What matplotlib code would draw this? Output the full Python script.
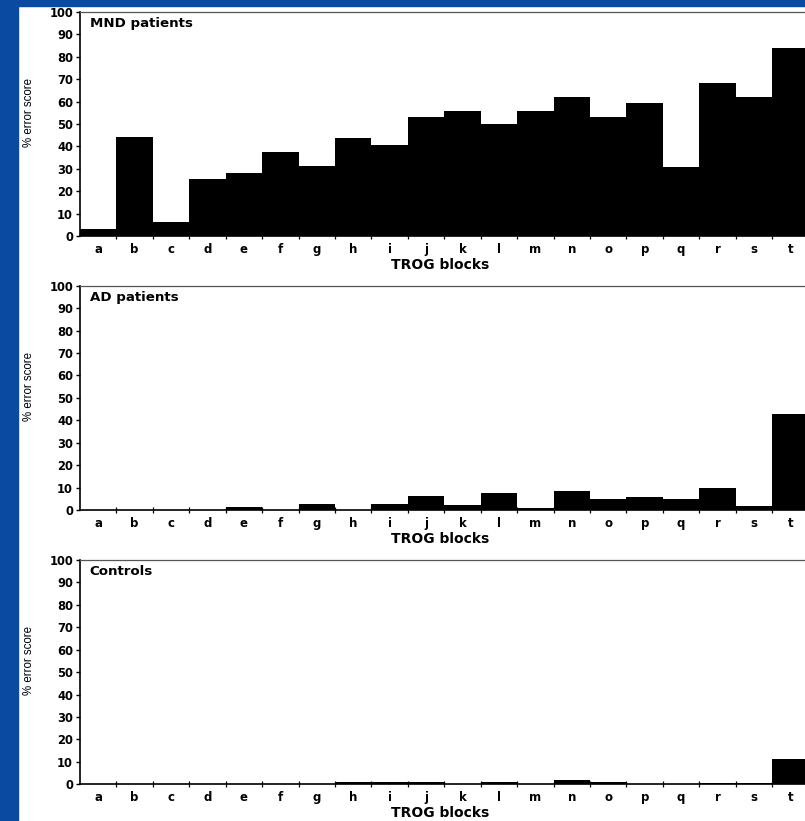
import matplotlib
matplotlib.use("Agg")
import matplotlib.pyplot as plt
from matplotlib.patches import Rectangle
import numpy as np

# TROG blocks a..t
blocks = list("abcdefghijklmnopqrst")

# % error score per block
mnd = [3.3, 44, 6.4, 25.3, 28.3, 37.6, 31.2, 43.7, 40.6, 53, 56, 50,
       56, 62.2, 53, 59.2, 31, 68.5, 62, 84]
ad = [0, 0, 0, 0, 1.2, 0, 2.5, 0, 2.5, 6.2, 2.2, 7.4,
      0.8, 8.6, 4.8, 5.9, 4.8, 9.9, 1.9, 42.7]
controls = [0, 0, 0, 0, 0, 0, 0, 1.0, 1.0, 1.0, 0, 1.0,
            0, 1.9, 0.9, 0, 0, 0.7, 0.7, 11.5]

groups = ["MND patients", "AD patients", "Controls"]
series = [mnd, ad, controls]
yticks = list(range(0, 101, 10))

BLUE = "#0a4aa0"
W, H = 805, 821

fig = plt.figure(figsize=(W / 100, H / 100), dpi=100, facecolor="white")

# slide frame
fig.add_artist(Rectangle((0, 0), 18 / W, 1, transform=fig.transFigure,
                         color=BLUE, zorder=10))
fig.add_artist(Rectangle((0, 1 - 6 / H), 1, 6 / H, transform=fig.transFigure,
                         color=BLUE, zorder=10))

# (top px, zero-line px) for each panel
panel_px = [(12, 236), (285.7, 510), (560, 784.3)]
left_px = 80

x = np.arange(len(blocks))
for (top, bottom), name, vals in zip(panel_px, groups, series):
    ax = fig.add_axes([left_px / W, 1 - bottom / H, (W - left_px) / W, (bottom - top) / H])
    ax.bar(x, vals, width=1.0, color="black", edgecolor="none")
    ax.set_xlim(-0.5, 19.4)
    ax.set_ylim(0, 100)

    ax.spines["right"].set_visible(False)
    ax.spines["top"].set_color("#555555")
    ax.spines["top"].set_linewidth(0.9)
    ax.spines["left"].set_linewidth(1.2)
    ax.spines["bottom"].set_linewidth(1.2)

    ax.set_yticks(yticks)
    ax.set_yticklabels([str(v) for v in yticks], fontsize=8.3,
                       fontweight="bold", family="DejaVu Sans")
    ax.tick_params(axis="y", direction="out", length=3, width=1, pad=2)

    # ticks between blocks, letters centred under each bar
    ax.set_xticks(np.arange(len(blocks) - 1) + 0.5)
    ax.set_xticklabels([])
    ax.tick_params(axis="x", which="major", direction="inout", length=5, width=0.9)
    ax.set_xticks(x, minor=True)
    ax.set_xticklabels(blocks, minor=True, fontsize=8.5, fontweight="bold",
                       family="DejaVu Sans")
    ax.tick_params(axis="x", which="minor", length=0, pad=5)

    ax.set_xlabel("TROG blocks", fontsize=10, fontweight="bold", family="DejaVu Sans")
    ax.xaxis.set_label_coords(0.497, -0.097)

    ax.text(0.0134, 0.934, name, transform=ax.transAxes, fontsize=9.6,
            fontweight="bold", family="DejaVu Sans", va="baseline", ha="left")

    fig.text(29 / W, 1 - (top + 0.45 * (bottom - top)) / H, "% error score",
             rotation=90, ha="center", va="center", fontsize=8.3,
             family=["Liberation Sans Narrow", "Liberation Sans"])

fig.savefig("out.png", dpi=100, facecolor="white")
